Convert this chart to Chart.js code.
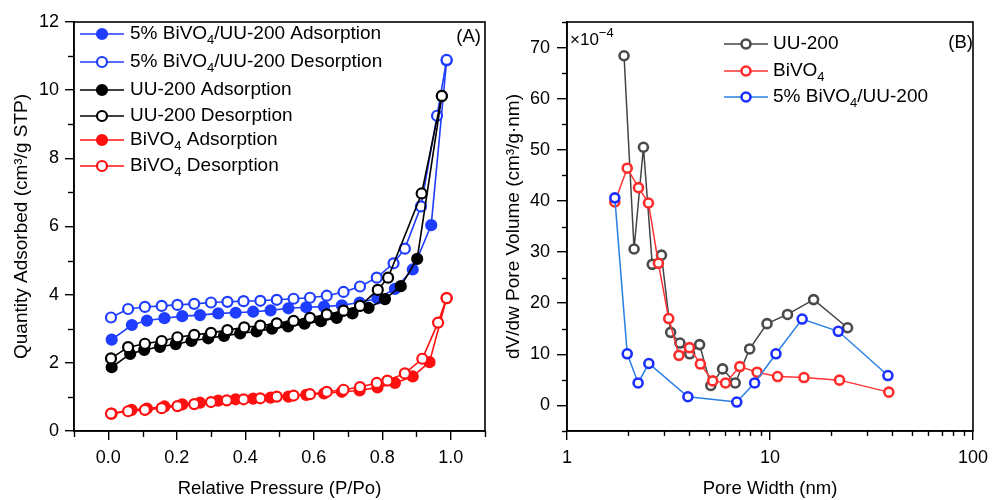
<!DOCTYPE html>
<html>
<head>
<meta charset="utf-8">
<script src="https://cdn.jsdelivr.net/npm/chart.js@4.4.1/dist/chart.umd.min.js"></script>
<style>
  html, body { margin: 0; padding: 0; background: #fff; }
  #wrap { position: relative; width: 995px; height: 500px; overflow: hidden; }
  #wrap canvas { position: absolute; top: 0; }
</style>
</head>
<body>
<div id="wrap">
  <canvas id="iso" width="497" height="500" style="left:0"></canvas>
  <canvas id="psd" width="498" height="500" style="left:497px"></canvas>
</div>
<script>
// ---------- (A) N2 adsorption / desorption isotherms ----------
const pComp5Ads = [0.010, 0.069, 0.113, 0.164, 0.216, 0.268, 0.321, 0.372, 0.423, 0.474, 0.526, 0.578, 0.630, 0.682, 0.734, 0.786, 0.837, 0.889, 0.943, 0.988];
const qComp5Ads = [2.68, 3.11, 3.24, 3.31, 3.37, 3.40, 3.45, 3.47, 3.50, 3.54, 3.60, 3.63, 3.65, 3.69, 3.77, 3.89, 4.17, 4.74, 6.04, 10.87];

const pComp5Des = [0.008, 0.058, 0.107, 0.156, 0.202, 0.251, 0.300, 0.348, 0.395, 0.444, 0.492, 0.541, 0.589, 0.638, 0.687, 0.735, 0.784, 0.833, 0.866, 0.913, 0.960, 0.988];
const qComp5Des = [3.33, 3.58, 3.64, 3.67, 3.70, 3.73, 3.77, 3.79, 3.81, 3.82, 3.85, 3.88, 3.91, 3.97, 4.08, 4.24, 4.50, 4.92, 5.35, 6.59, 9.25, 10.89];

const pUUAds = [0.010, 0.064, 0.105, 0.151, 0.197, 0.243, 0.292, 0.338, 0.385, 0.433, 0.478, 0.525, 0.573, 0.621, 0.667, 0.713, 0.760, 0.808, 0.854, 0.902, 0.974];
const qUUAds = [1.87, 2.26, 2.38, 2.47, 2.55, 2.64, 2.72, 2.79, 2.86, 2.92, 3.00, 3.07, 3.15, 3.22, 3.32, 3.45, 3.61, 3.87, 4.25, 5.05, 9.83];

const pUUDes = [0.008, 0.058, 0.107, 0.156, 0.202, 0.251, 0.300, 0.348, 0.397, 0.444, 0.492, 0.541, 0.589, 0.638, 0.687, 0.735, 0.787, 0.817, 0.915, 0.974];
const qUUDes = [2.13, 2.46, 2.56, 2.64, 2.75, 2.82, 2.88, 2.96, 3.04, 3.09, 3.16, 3.23, 3.32, 3.42, 3.53, 3.67, 4.14, 4.50, 6.97, 9.83];

const pBiAds = [0.010, 0.068, 0.113, 0.164, 0.216, 0.268, 0.321, 0.372, 0.423, 0.474, 0.526, 0.578, 0.630, 0.682, 0.734, 0.786, 0.837, 0.889, 0.938, 0.988];
const qBiAds = [0.51, 0.62, 0.66, 0.72, 0.78, 0.83, 0.89, 0.93, 0.95, 0.98, 1.01, 1.06, 1.10, 1.15, 1.19, 1.28, 1.41, 1.60, 2.02, 3.90];

const pBiDes = [0.008, 0.058, 0.107, 0.156, 0.202, 0.251, 0.300, 0.346, 0.395, 0.444, 0.492, 0.541, 0.589, 0.638, 0.687, 0.735, 0.784, 0.815, 0.866, 0.917, 0.963, 0.988];
const qBiDes = [0.51, 0.58, 0.62, 0.67, 0.73, 0.79, 0.85, 0.90, 0.93, 0.96, 1.01, 1.04, 1.08, 1.15, 1.21, 1.29, 1.41, 1.48, 1.69, 2.12, 3.18, 3.90];

const isoLabels = [
  '5% BiVO_4/UU-200 Adsorption',
  '5% BiVO_4/UU-200 Desorption',
  'UU-200 Adsorption',
  'UU-200 Desorption',
  'BiVO_4 Adsorption',
  'BiVO_4 Desorption'
];

const pressureTicks = [0, 0.2, 0.4, 0.6, 0.8, 1.0];
const pressureTickLabels = ['0.0', '0.2', '0.4', '0.6', '0.8', '1.0'];
const pressureMinor = [-0.1, 0.1, 0.3, 0.5, 0.7, 0.9, 1.1];
const qtyTicks = [0, 2, 4, 6, 8, 10, 12];
const qtyTickLabels = ['0', '2', '4', '6', '8', '10', '12'];
const qtyMinor = [1, 3, 5, 7, 9, 11];

// ---------- (B) pore size distribution (values in 1e-4 cm3/g·nm) ----------
const wUU = [1.91, 2.14, 2.38, 2.63, 2.92, 3.24, 3.60, 4.02, 4.50, 5.11, 5.84, 6.74, 7.94, 9.67, 12.2, 16.4, 24.1];
const vUU = [68.4, 30.6, 50.5, 27.6, 29.4, 14.3, 12.2, 10.1, 11.9, 3.9, 7.15, 4.4, 11.05, 16.0, 17.8, 20.7, 15.2];

const wBi = [1.72, 1.98, 2.25, 2.52, 2.82, 3.17, 3.56, 4.01, 4.54, 5.22, 6.04, 7.10, 8.64, 10.9, 14.7, 22.0, 38.5];
const vBi = [39.8, 46.4, 42.6, 39.6, 27.8, 17.0, 9.8, 11.3, 8.1, 4.8, 4.4, 7.6, 6.5, 5.65, 5.45, 4.95, 2.6];

const wComp5 = [1.72, 1.98, 2.24, 2.53, 3.94, 6.86, 8.40, 10.7, 14.4, 21.7, 38.1];
const vComp5 = [40.6, 10.1, 4.4, 8.2, 1.7, 0.66, 4.4, 10.1, 16.9, 14.5, 5.85];

const psdLabels = ['UU-200', 'BiVO_4', '5% BiVO_4/UU-200'];

const widthTicks = [1, 10, 100];
const widthTickLabels = ['1', '10', '100'];
const widthMinor = [2, 3, 4, 5, 6, 7, 8, 9, 20, 30, 40, 50, 60, 70, 80, 90];
const volTicks = [0, 10, 20, 30, 40, 50, 60, 70];
const volTickLabels = ['0', '10', '20', '30', '40', '50', '60', '70'];
const volMinor = [-5, 5, 15, 25, 35, 45, 55, 65, 75];

// ---------- shared styling ----------
const FONT = "'Liberation Sans', Arial, Helvetica, sans-serif";
Chart.defaults.font.family = FONT;
Chart.defaults.color = '#000';

function zip(xs, ys) { return xs.map((x, i) => ({ x: x, y: ys[i] })); }

// draw a label where "_d" marks a subscript digit
function drawRich(ctx, text, x, y, size) {
  const parts = text.split(/(_\d)/);
  ctx.textBaseline = 'middle';
  ctx.textAlign = 'left';
  let cx = x;
  parts.forEach(p => {
    if (!p) return;
    if (p[0] === '_') {
      ctx.font = Math.round(size * 0.68) + 'px ' + FONT;
      ctx.fillText(p.slice(1), cx, y + size * 0.32);
      cx += ctx.measureText(p.slice(1)).width;
    } else {
      ctx.font = size + 'px ' + FONT;
      ctx.fillText(p, cx, y);
      cx += ctx.measureText(p).width;
    }
  });
}

// frame, minor ticks and hand-placed legend / annotations
const decorPlugin = {
  id: 'decor',
  afterDraw(chart, args, opts) {
    const ctx = chart.ctx;
    const a = chart.chartArea;
    ctx.save();
    ctx.strokeStyle = '#000';
    ctx.lineWidth = 1.6;
    ctx.strokeRect(a.left, a.top, a.right - a.left, a.bottom - a.top);

    // minor tick marks, placed through the chart's own scales
    ctx.lineWidth = 1.4;
    const xs = chart.scales.x, ys = chart.scales.y;
    (opts.xMinor || []).forEach(v => {
      const px = Math.round(xs.getPixelForValue(v)) + 0.5;
      ctx.beginPath(); ctx.moveTo(px, a.bottom); ctx.lineTo(px, a.bottom + opts.minorLen); ctx.stroke();
    });
    (opts.yMinor || []).forEach(v => {
      const py = Math.round(ys.getPixelForValue(v)) + 0.5;
      ctx.beginPath(); ctx.moveTo(a.left, py); ctx.lineTo(a.left - opts.minorLen, py); ctx.stroke();
    });

    // legend
    const lg = opts.legend;
    chart.data.datasets.forEach((ds, i) => {
      const y = lg.rows[i];
      ctx.strokeStyle = ds.borderColor;
      ctx.lineWidth = ds.borderWidth;
      ctx.beginPath(); ctx.moveTo(lg.x0, y); ctx.lineTo(lg.x1, y); ctx.stroke();
      ctx.beginPath();
      ctx.arc((lg.x0 + lg.x1) / 2, y, ds.pointRadius, 0, Math.PI * 2);
      ctx.fillStyle = ds.pointBackgroundColor;
      ctx.fill();
      ctx.lineWidth = ds.pointBorderWidth;
      ctx.strokeStyle = ds.pointBorderColor;
      ctx.stroke();
      ctx.fillStyle = '#000';
      drawRich(ctx, ds.label, lg.textX, y, lg.size);
    });

    // panel tag
    ctx.fillStyle = '#000';
    ctx.font = opts.tag.size + 'px ' + FONT;
    ctx.textAlign = 'right';
    ctx.textBaseline = 'middle';
    ctx.fillText(opts.tag.text, opts.tag.x, opts.tag.y);

    // axis multiplier
    if (opts.multiplier) {
      const m = opts.multiplier;
      ctx.textAlign = 'left';
      ctx.font = m.size + 'px ' + FONT;
      ctx.fillText('\u00d710', m.x, m.y);
      const w = ctx.measureText('\u00d710').width;
      ctx.font = Math.round(m.size * 0.75) + 'px ' + FONT;
      ctx.fillText('\u2212' + m.exp, m.x + w, m.y - m.size * 0.38);
    }
    ctx.restore();
  }
};

function axisCommon(tickLen) {
  return {
    grid: { drawOnChartArea: false, drawTicks: true, tickLength: tickLen, color: '#000', tickColor: '#000', lineWidth: 1.4, tickWidth: 1.4 },
    border: { display: true, color: '#000', width: 1.6 }
  };
}

function lineSet(label, xs, ys, line, marker, filled, order, opts) {
  return Object.assign({
    label: label,
    data: zip(xs, ys),
    showLine: true,
    borderColor: line,
    borderWidth: 1.6,
    pointRadius: 5,
    pointBorderWidth: 2.2,
    pointBorderColor: marker,
    pointBackgroundColor: filled ? marker : '#fff',
    pointHoverRadius: 5,
    fill: false,
    tension: 0,
    order: order
  }, opts || {});
}

// ---------- chart (A) ----------
const BLUE = '#1f3dff', BLACK = '#000000', RED = '#ff1010';
new Chart(document.getElementById('iso'), {
  type: 'line',
  data: {
    datasets: [
      lineSet(isoLabels[0], pComp5Ads, qComp5Ads, BLUE, BLUE, true, 6),
      lineSet(isoLabels[1], pComp5Des, qComp5Des, BLUE, BLUE, false, 5),
      lineSet(isoLabels[2], pUUAds, qUUAds, BLACK, BLACK, true, 4),
      lineSet(isoLabels[3], pUUDes, qUUDes, BLACK, BLACK, false, 3),
      lineSet(isoLabels[4], pBiAds, qBiAds, RED, RED, true, 2),
      lineSet(isoLabels[5], pBiDes, qBiDes, RED, RED, false, 1)
    ]
  },
  options: {
    responsive: false,
    animation: false,
    devicePixelRatio: 1,
    events: [],
    layout: { padding: { top: 22, right: 12, left: 0, bottom: 0 } },
    plugins: {
      legend: { display: false },
      tooltip: { enabled: false },
      decor: {
        minorLen: 6,
        xMinor: pressureMinor,
        yMinor: qtyMinor,
        legend: { x0: 80, x1: 124, textX: 130, size: 19, rows: [34, 62, 90, 116, 140, 166] },
        tag: { text: '(A)', x: 481, y: 37, size: 18.5 }
      }
    },
    scales: {
      x: Object.assign(axisCommon(9), {
        type: 'linear', min: -0.1, max: 1.1,
        afterBuildTicks: s => { s.ticks = pressureTicks.map(v => ({ value: v })); },
        afterFit: s => { s.height = 69; },
        ticks: { font: { size: 18 }, color: '#000', padding: 7, maxRotation: 0, autoSkip: false,
                 callback: (v, i) => pressureTickLabels[i] },
        title: { display: true, text: 'Relative Pressure (P/Po)', font: { size: 18.5 }, color: '#000', padding: { top: 0, bottom: 0 } }
      }),
      y: Object.assign(axisCommon(9), {
        type: 'linear', min: 0, max: 12,
        afterBuildTicks: s => { s.ticks = qtyTicks.map(v => ({ value: v })); },
        afterFit: s => { s.width = 74; },
        ticks: { font: { size: 18 }, color: '#000', padding: 6, autoSkip: false,
                 callback: (v, i) => qtyTickLabels[i] },
        title: { display: true, text: 'Quantity Adsorbed (cm\u00b3/g STP)', font: { size: 19 }, color: '#000', padding: { top: 10, bottom: 0 } }
      })
    }
  },
  plugins: [decorPlugin]
});

// ---------- chart (B) ----------
const GREY = '#444444', GREY_M = '#4a4a4a';
const RED_L = '#ff3333', RED_M = '#ff2a2a';
const BLUE_L = '#2a7fe6', BLUE_M = '#1a2eff';
const psdOpts = { borderWidth: 1.5, pointRadius: 4.5, pointBorderWidth: 2.6 };
new Chart(document.getElementById('psd'), {
  type: 'line',
  data: {
    datasets: [
      lineSet(psdLabels[0], wUU, vUU, GREY, GREY_M, false, 3, psdOpts),
      lineSet(psdLabels[1], wBi, vBi, RED_L, RED_M, false, 2, psdOpts),
      lineSet(psdLabels[2], wComp5, vComp5, BLUE_L, BLUE_M, false, 1, psdOpts)
    ]
  },
  options: {
    responsive: false,
    animation: false,
    devicePixelRatio: 1,
    events: [],
    layout: { padding: { top: 22, right: 17, left: 0, bottom: 0 } },
    plugins: {
      legend: { display: false },
      tooltip: { enabled: false },
      decor: {
        minorLen: 5,
        xMinor: widthMinor,
        yMinor: volMinor,
        legend: { x0: 227, x1: 271, textX: 276, size: 19, rows: [44, 71, 97] },
        tag: { text: '(B)', x: 476, y: 43, size: 18.5 },
        multiplier: { x: 73, y: 40, size: 17, exp: '4' }
      }
    },
    scales: {
      x: Object.assign(axisCommon(9), {
        type: 'logarithmic', min: 1, max: 100,
        afterBuildTicks: s => { s.ticks = widthTicks.map(v => ({ value: v })); },
        afterFit: s => { s.height = 69; },
        ticks: { font: { size: 18 }, color: '#000', padding: 7, maxRotation: 0, autoSkip: false,
                 callback: (v, i) => widthTickLabels[i] },
        title: { display: true, text: 'Pore Width (nm)', font: { size: 18.5 }, color: '#000', padding: { top: 0, bottom: 0 } }
      }),
      y: Object.assign(axisCommon(10), {
        type: 'linear', min: -5, max: 75,
        afterBuildTicks: s => { s.ticks = volTicks.map(v => ({ value: v })); },
        afterFit: s => { s.width = 70; },
        ticks: { font: { size: 18 }, color: '#000', padding: 7, autoSkip: false,
                 callback: (v, i) => volTickLabels[i] },
        title: { display: true, text: 'dV/dw Pore Volume (cm\u00b3/g\u00b7nm)', font: { size: 19 }, color: '#000', padding: { top: 5, bottom: 0 } }
      })
    }
  },
  plugins: [decorPlugin]
});
</script>
</body>
</html>
